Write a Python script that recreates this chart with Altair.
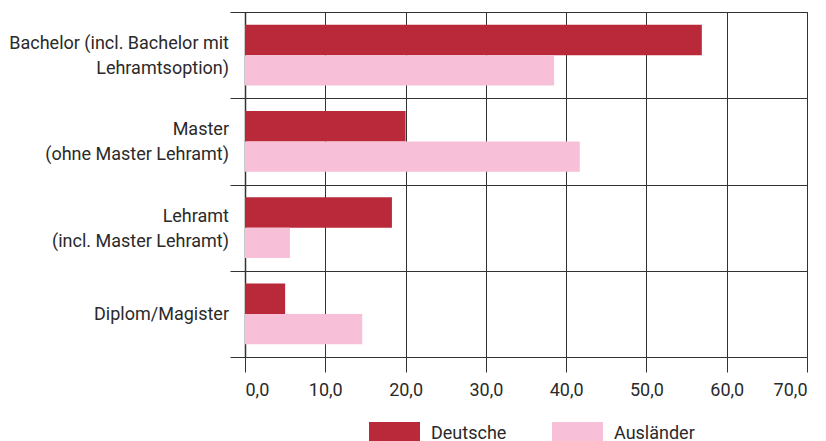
import altair as alt
import pandas as pd

categories = [
    "Bachelor (incl. Bachelor mit|Lehramtsoption)",
    "Master|(ohne Master Lehramt)",
    "Lehramt|(incl. Master Lehramt)",
    "Diplom/Magister",
]
series = ["Deutsche", "Ausländer"]
deutsche = [56.9, 20.0, 18.3, 5.0]
auslaender = [38.5, 41.7, 5.6, 14.6]
x_ticks = [0, 10, 20, 30, 40, 50, 60, 70]
colors = ["#B92939", "#F7C0D8"]

rows = []
for c, d, a in zip(categories, deutsche, auslaender):
    rows.append({"category": c, "series": series[0], "value": d})
    rows.append({"category": c, "series": series[1], "value": a})
df = pd.DataFrame(rows)
labels_df = pd.DataFrame({"category": categories})

FONT = "Roboto, sans-serif"
LINE = "#333333"
TEXT = "#2a2a2a"

y_enc = alt.Y("category:N", sort=categories,
              scale=alt.Scale(paddingInner=0, paddingOuter=0),
              axis=alt.Axis(title=None, tickBand="extent", grid=True, gridColor=LINE,
                            gridOpacity=1, tickSize=15, tickColor=LINE,
                            domainColor=LINE, domainWidth=1.5, labels=False))

bars = alt.Chart(df).mark_bar().encode(
    x=alt.X("value:Q",
            scale=alt.Scale(domain=[0, 70], nice=False),
            axis=alt.Axis(values=x_ticks, title=None, grid=True, gridColor=LINE,
                          gridOpacity=1, tickSize=15, tickColor=LINE, domain=False,
                          labelExpr="replace(format(datum.value, '.1f'), '.', ',')",
                          labelFontSize=18, labelPadding=9, labelColor=TEXT,
                          labelFont=FONT)),
    y=y_enc,
    yOffset=alt.YOffset("series:N", sort=series,
                        scale=alt.Scale(paddingOuter=0.414, paddingInner=0)),
    color=alt.Color("series:N", sort=series,
                    scale=alt.Scale(domain=series, range=colors),
                    legend=alt.Legend(orient="none", legendX=119, legendY=412,
                                      direction="horizontal", title=None,
                                      symbolType="M-0.5,-1.2L4.6,-1.2L4.6,1.2L-0.5,1.2Z",
                                      symbolSize=400, symbolStrokeWidth=0,
                                      symbolOpacity=1,
                                      labelOffset=47, columnPadding=40,
                                      labelFontSize=18, labelColor=TEXT,
                                      labelFont=FONT)),
)

text_base = alt.Chart(labels_df).transform_calculate(
    lines="split(datum.category, '|')"
)
text_style = dict(align="right", baseline="middle", fontSize=18, font=FONT,
                  color=TEXT, lineHeight=25)

two_line = text_base.transform_filter(
    "indexof(datum.category, '|') >= 0"
).mark_text(dy=-11, **text_style).encode(
    y=y_enc, x=alt.value(-16), text="lines:N"
)
one_line = text_base.transform_filter(
    "indexof(datum.category, '|') < 0"
).mark_text(dy=1, **text_style).encode(
    y=y_enc, x=alt.value(-16), text="lines:N"
)

chart = alt.layer(bars, two_line, one_line).properties(
    width=562,
    height=345,
    autosize=alt.AutoSizeParams(type="none"),
    padding={"left": 237, "top": 4, "right": 11, "bottom": 84},
).configure_view(stroke=LINE, strokeWidth=1)

chart.save("out.html", embed_options={"renderer": "svg", "actions": False})
